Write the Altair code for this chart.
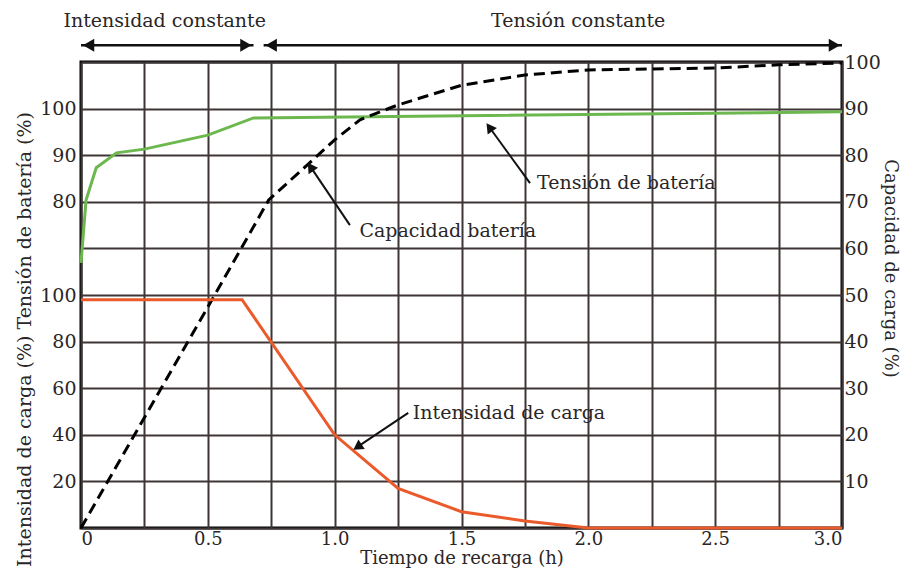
import altair as alt
import pandas as pd

# ---- data ----
time_tension = [0.0, 0.02, 0.06, 0.14, 0.25, 0.5, 0.68, 3.0]
tension_pct = [66.9, 80.4, 87.3, 90.5, 91.3, 94.3, 98.0, 99.3]

time_capacity = [0.0, 0.5, 0.74, 0.9, 1.0, 1.1, 1.25, 1.5, 1.75, 2.0, 2.5, 2.75, 3.0]
capacity_pct = [0.0, 47.4, 70.4, 78.3, 83.3, 87.6, 90.8, 95.0, 97.2, 98.3, 98.7, 99.4, 99.8]

time_current = [0.0, 0.635, 1.0, 1.25, 1.5, 1.75, 2.0, 3.0]
current_pct = [98.0, 98.0, 40.0, 17.0, 7.0, 3.0, 0.0, 0.0]

x_grid_values = [0, 0.25, 0.5, 0.75, 1.0, 1.25, 1.5, 1.75, 2.0, 2.25, 2.5, 2.75, 3.0]
right_values = [0, 10, 20, 30, 40, 50, 60, 70, 80, 90, 100]
left_values = [10, 20, 30, 40, 50, 70, 80, 90]

phase_labels = ["Intensidad constante", "Tensión constante"]
phase_label_t = [0.33, 1.96]
phase_start = [0.0, 0.72]
phase_end = [0.68, 3.0]

curve_labels = ["Tensión de batería", "Capacidad batería", "Intensidad de carga"]
label_t = [1.79, 1.09, 1.30]
label_y = [74.0, 63.7, 24.7]
arrow_tail_t = [1.77, 1.06, 1.29]
arrow_tail_y = [74.0, 65.0, 24.7]
arrow_tip_t = [1.61, 0.905, 1.09]
arrow_tip_y = [86.0, 77.5, 17.4]
arrow_angle = [324, 326, 236]

FONT = "DejaVu Serif"
TXT = "#2a2626"

# ---- tables (plotted on the capacity scale, 0-100) ----
df_tension = pd.DataFrame({"t": time_tension, "y": [v - 10 for v in tension_pct]})
df_capacity = pd.DataFrame({"t": time_capacity, "y": capacity_pct})
df_current = pd.DataFrame({"t": time_current, "y": [v / 2 for v in current_pct]})

top_y = 103.6
df_phase_rules = pd.DataFrame({"t": phase_start, "t2": phase_end, "y": [top_y] * 2})
df_phase_heads = pd.DataFrame({
    "t": [phase_start[0] + 0.03, phase_end[0] - 0.03, phase_start[1] + 0.03, phase_end[1] - 0.03],
    "y": [top_y] * 4,
    "shape": ["triangle-left", "triangle-right", "triangle-left", "triangle-right"],
})
df_phase_text = pd.DataFrame({"t": phase_label_t, "y": [108.7] * 2, "label": phase_labels})

df_ann_text = pd.DataFrame({"t": label_t, "y": label_y, "label": curve_labels})
df_ann_rules = pd.DataFrame({"t": arrow_tail_t, "y": arrow_tail_y, "t2": arrow_tip_t, "y2": arrow_tip_y})
df_ann_heads = pd.DataFrame({"t": arrow_tip_t, "y": arrow_tip_y, "angle": arrow_angle})

xscale = alt.Scale(domain=[0, 3], nice=False, zero=False)
yscale = alt.Scale(domain=[0, 100], nice=False, zero=False)

x_axis = alt.Axis(
    values=x_grid_values,
    labelExpr="datum.value == 0 ? '0' : (datum.value % 0.5 == 0 ? format(datum.value, '.1f') : '')",
    title="Tiempo de recarga (h)",
    grid=True, ticks=False, domain=False,
    labelPadding=2, titlePadding=1, labelFontSize=18, titleFontSize=18,
)
X = alt.X("t:Q", scale=xscale, axis=x_axis)

left_axis = alt.Axis(
    orient="left", values=left_values, grid=False, ticks=False, domain=False,
    labelExpr="datum.value <= 50 ? format(datum.value * 2, 'd') : format(datum.value + 10, 'd')",
    title="Intensidad de carga (%) Tensión de batería (%)",
    labelPadding=5, titlePadding=5, titleY=277,
)
right_axis = alt.Axis(
    orient="right", values=right_values, grid=True, ticks=False, domain=False,
    labelExpr="datum.value == 0 ? '' : format(datum.value, 'd')",
    title="Capacidad de carga (%)", titleFontSize=18,
    labelPadding=2, titlePadding=0, titleY=206,
)

green = alt.Chart(df_tension).mark_line(color="#6cb84f", strokeWidth=3).encode(
    x=X, y=alt.Y("y:Q", scale=yscale, axis=left_axis)
)
dashed = alt.Chart(df_capacity).mark_line(color="black", strokeWidth=3, strokeDash=[11, 6]).encode(
    x=X, y=alt.Y("y:Q", scale=yscale, axis=right_axis)
)
orange = alt.Chart(df_current).mark_line(color="#ea5a2b", strokeWidth=3).encode(
    x=X, y=alt.Y("y:Q", scale=yscale, axis=None)
)

phase_rules = alt.Chart(df_phase_rules).mark_rule(color="#111", strokeWidth=2.5).encode(
    x=X, x2="t2:Q", y=alt.Y("y:Q", scale=yscale, axis=None)
)
phase_heads = alt.Chart(df_phase_heads).mark_point(filled=True, color="#111", size=170, opacity=1).encode(
    x=X, y=alt.Y("y:Q", scale=yscale, axis=None), shape=alt.Shape("shape:N", scale=None)
)
phase_text = alt.Chart(df_phase_text).mark_text(font=FONT, fontSize=19, color=TXT).encode(
    x=X, y=alt.Y("y:Q", scale=yscale, axis=None), text="label:N"
)

ann_rules = alt.Chart(df_ann_rules).mark_rule(color="#111", strokeWidth=2).encode(
    x=X, x2="t2:Q", y=alt.Y("y:Q", scale=yscale, axis=None), y2="y2:Q"
)
ann_heads = alt.Chart(df_ann_heads).mark_point(filled=True, color="#111", size=130, opacity=1, shape="triangle-up").encode(
    x=X, y=alt.Y("y:Q", scale=yscale, axis=None), angle=alt.Angle("angle:Q", scale=None)
)
ann_text = alt.Chart(df_ann_text).mark_text(font=FONT, fontSize=19, color=TXT, align="left", dx=2).encode(
    x=X, y=alt.Y("y:Q", scale=yscale, axis=None), text="label:N"
)

chart = alt.layer(
    green, dashed, orange, phase_rules, phase_heads, phase_text, ann_rules, ann_heads, ann_text
).resolve_axis(y="independent").properties(
    width=761, height=466,
    background="white",
    autosize=alt.AutoSizeParams(type="none"),
    padding={"left": 73, "top": 54, "right": 63, "bottom": 44},
).configure_view(
    stroke="black", strokeWidth=3
).configure_axis(
    labelFont=FONT, labelFontSize=19, labelColor=TXT,
    titleFont=FONT, titleFontSize=19, titleColor=TXT, titleFontWeight="normal",
    gridColor="#3e3636", gridWidth=2, gridOpacity=1,
)

chart.save("out.html", embed_options={"renderer": "svg", "actions": False})
